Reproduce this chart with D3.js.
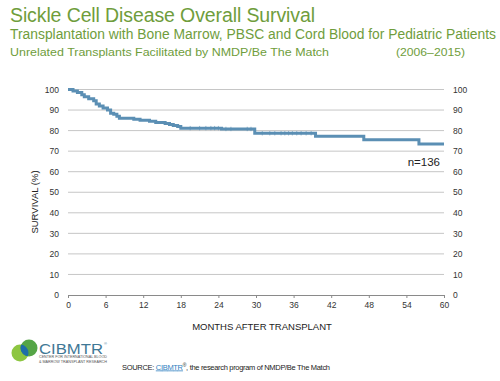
<!DOCTYPE html>
<html>
<head>
<meta charset="utf-8">
<script src="https://cdn.jsdelivr.net/npm/d3@7"></script>
<style>
html,body{margin:0;padding:0;background:#fff;}
svg{display:block;font-family:"Liberation Sans",Arial,sans-serif;}
</style>
</head>
<body>
<svg id="chart" width="500" height="381"></svg>
<script>
// ---- data ----
const stepMonths = [0, 0.8, 1.5, 2.2, 2.6, 3.3, 4.1, 4.5, 5.0, 5.6, 6.3, 6.8, 7.3, 7.8, 8.2, 10.5, 11.5, 13.0, 14.0, 15.5, 16.2, 16.8, 17.5, 18.0, 24.5, 29.8, 39.5, 47.2, 56.0, 60];
const survival   = [100, 99.3, 98.5, 97.5, 96.5, 95.5, 94.5, 93, 92, 91, 90, 88.5, 88, 87, 86, 85.5, 85, 84.5, 84, 83.5, 83, 82.5, 82, 81.2, 80.8, 78.7, 77.2, 75.6, 73.5, 73.5];
const censorMonths = [19.5, 21, 22, 22.8, 23.4, 24, 25.2, 26, 28.6, 29.2, 31, 32.2, 33, 34, 34.6, 35.2, 35.8, 36.5, 37.2, 38, 38.8];
const xTicks = [0, 6, 12, 18, 24, 30, 36, 42, 48, 54, 60];
const yTicks = [0, 10, 20, 30, 40, 50, 60, 70, 80, 90, 100];

const title = "Sickle Cell Disease Overall Survival";
const subtitle1 = "Transplantation with Bone Marrow, PBSC and Cord Blood for Pediatric Patients";
const subtitle2 = "Unrelated Transplants Facilitated by NMDP/Be The Match";
const period = "(2006–2015)";
const nLabel = "n=136";

// ---- drawing ----
const svg = d3.select("#chart");
const x = d3.scaleLinear().domain([0, 60]).range([68, 444]);
const y = d3.scaleLinear().domain([0, 100]).range([295, 89.5]);

const green = "#6f9d3c";
svg.append("text").attr("x", 10).attr("y", 22).attr("font-size", 19.5).attr("fill", green)
  .attr("textLength", 305).attr("lengthAdjust", "spacing").text(title);
svg.append("text").attr("x", 10).attr("y", 39).attr("font-size", 14).attr("fill", green)
  .attr("textLength", 486).attr("lengthAdjust", "spacingAndGlyphs").text(subtitle1);
svg.append("text").attr("x", 10).attr("y", 55.5).attr("font-size", 11.5).attr("fill", green)
  .attr("textLength", 319).attr("lengthAdjust", "spacingAndGlyphs").text(subtitle2);
svg.append("text").attr("x", 396).attr("y", 55.5).attr("font-size", 11.5).attr("fill", green)
  .attr("textLength", 69).attr("lengthAdjust", "spacingAndGlyphs").text(period);

// gridlines
svg.append("g").selectAll("line").data(yTicks.filter(d => d > 0)).join("line")
  .attr("x1", x(0)).attr("x2", x(60)).attr("y1", d => y(d)).attr("y2", d => y(d))
  .attr("stroke", "#c6c6c6").attr("stroke-width", 1);

// left axis labels
const yAxisL = d3.axisLeft(y).tickValues(yTicks).tickSize(0).tickPadding(9);
const gL = svg.append("g").attr("transform", `translate(${x(0)},0)`).call(yAxisL);
gL.select(".domain").remove();
gL.selectAll("text").attr("font-size", 8.5).attr("fill", "#333").attr("font-family", "Liberation Sans, Arial, sans-serif");

// right axis labels
const yAxisR = d3.axisRight(y).tickValues(yTicks).tickSize(0).tickPadding(9);
const gR = svg.append("g").attr("transform", `translate(${x(60)},0)`).call(yAxisR);
gR.select(".domain").remove();
gR.selectAll("text").attr("font-size", 8.5).attr("fill", "#333").attr("font-family", "Liberation Sans, Arial, sans-serif");

// bottom axis
const xAxis = d3.axisBottom(x).tickValues(xTicks).tickSize(3).tickPadding(4).tickSizeOuter(0);
const gX = svg.append("g").attr("transform", `translate(0,${y(0)})`).call(xAxis);
gX.select(".domain").attr("stroke", "#8a8a8a");
gX.selectAll(".tick line").attr("stroke", "#8a8a8a");
gX.selectAll("text").attr("font-size", 8.5).attr("fill", "#333").attr("font-family", "Liberation Sans, Arial, sans-serif");

// axis titles
svg.append("text").attr("x", 262).attr("y", 330).attr("text-anchor", "middle")
  .attr("font-size", 9.5).attr("fill", "#222").text("MONTHS AFTER TRANSPLANT");
svg.append("text").attr("transform", "translate(38,202) rotate(-90)").attr("text-anchor", "middle")
  .attr("font-size", 9.5).attr("fill", "#222").text("SURVIVAL (%)");

// survival curve
const pts = stepMonths.map((m, i) => [m, survival[i]]);
const line = d3.line().x(d => x(d[0])).y(d => y(d[1])).curve(d3.curveStepAfter);
const lineColor = "#5b8fb4";
svg.append("path").attr("d", line(pts)).attr("fill", "none")
  .attr("stroke", lineColor).attr("stroke-width", 3);

// censor marks
function survAt(m) {
  let v = survival[0];
  for (let i = 0; i < stepMonths.length; i++) if (stepMonths[i] <= m) v = survival[i];
  return v;
}
svg.append("g").selectAll("line").data(censorMonths).join("line")
  .attr("x1", d => x(d)).attr("x2", d => x(d))
  .attr("y1", d => y(survAt(d)) - 2.2).attr("y2", d => y(survAt(d)) + 2.2)
  .attr("stroke", lineColor).attr("stroke-opacity", 0.8).attr("stroke-width", 0.8);

svg.append("text").attr("x", 440).attr("y", 166).attr("text-anchor", "end")
  .attr("font-size", 11.5).attr("fill", "#222").text(nLabel);

// footer logo
const logo = svg.append("g");
const defs = svg.append("defs");
defs.append("clipPath").attr("id", "c1").append("circle").attr("cx", 20).attr("cy", 353).attr("r", 8.5);
logo.append("circle").attr("cx", 20).attr("cy", 353).attr("r", 8.5).attr("fill", "#8dc641");
logo.append("circle").attr("cx", 29).attr("cy", 348).attr("r", 8.5).attr("fill", "#55a546");
logo.append("circle").attr("cx", 29).attr("cy", 348).attr("r", 8.5).attr("fill", "#1f6ea8").attr("clip-path", "url(#c1)");
logo.append("text").attr("x", 39).attr("y", 353.5).attr("font-size", 14.5).attr("fill", "#3f7896")
  .attr("textLength", 64).attr("lengthAdjust", "spacingAndGlyphs").text("CIBMTR");
logo.append("text").attr("x", 104).attr("y", 345).attr("font-size", 4).attr("fill", "#3f7896").text("®");
logo.append("text").attr("x", 39).attr("y", 358).attr("font-size", 3).attr("fill", "#555")
  .attr("textLength", 68).attr("lengthAdjust", "spacingAndGlyphs").text("CENTER FOR INTERNATIONAL BLOOD");
logo.append("text").attr("x", 39).attr("y", 362.5).attr("font-size", 3).attr("fill", "#555")
  .attr("textLength", 68).attr("lengthAdjust", "spacingAndGlyphs").text("& MARROW TRANSPLANT RESEARCH");

// source line
const src = svg.append("text").attr("x", 122).attr("y", 369.5).attr("font-size", 7.5).attr("fill", "#222")
  .attr("textLength", 208).attr("lengthAdjust", "spacing");
src.append("tspan").text("SOURCE: ");
src.append("tspan").attr("fill", "#2e7fc0").attr("text-decoration", "underline").text("CIBMTR");
src.append("tspan").attr("font-size", 5).attr("dy", -2.5).text("®");
src.append("tspan").attr("dy", 2.5).text(", the research program of NMDP/Be The Match");
</script>
</body>
</html>
